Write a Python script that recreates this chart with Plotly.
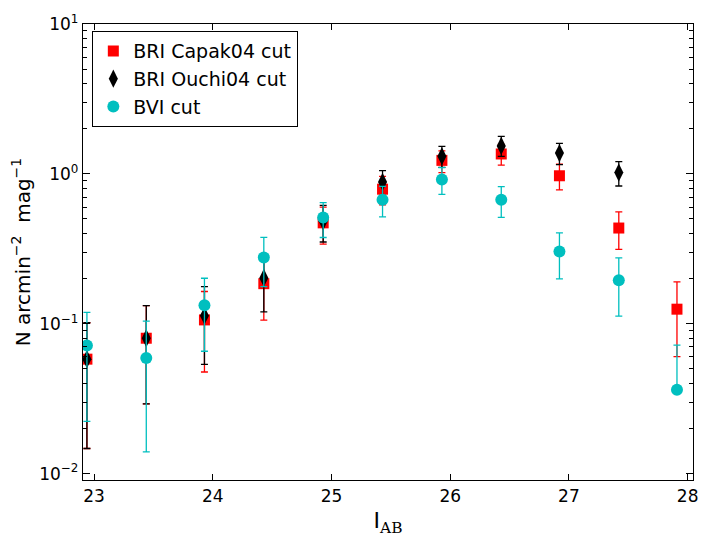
import plotly.graph_objects as go

# ---- data ----
mag = [22.94, 23.44, 23.93, 24.43, 24.93, 25.43, 25.93, 26.43, 26.92, 27.42, 27.91]

capak_y = [0.058, 0.080, 0.106, 0.185, 0.471, 0.790, 1.23, 1.357, 0.971, 0.435, 0.125]
capak_hi = [0.1015, 0.132, 0.164, 0.264, 0.600, 0.961, 1.425, 1.57, 1.16, 0.557, 0.190]
capak_lo = [0.0147, 0.0292, 0.0476, 0.1056, 0.340, 0.62, 1.02, 1.143, 0.782, 0.313, 0.0603]

ouchi_x = mag[:10]
ouchi_y = [0.058, 0.080, 0.113, 0.202, 0.483, 0.884, 1.311, 1.535, 1.377, 1.02]
ouchi_hi = [0.1015, 0.132, 0.177, 0.284, 0.617, 1.05, 1.527, 1.778, 1.597, 1.205]
ouchi_lo = [0.0147, 0.0292, 0.0535, 0.120, 0.351, 0.718, 1.104, 1.31, 1.154, 0.830]

bvi_y = [0.0715, 0.059, 0.133, 0.277, 0.512, 0.671, 0.916, 0.671, 0.303, 0.195, 0.0363]
bvi_hi = [0.119, 0.104, 0.201, 0.377, 0.642, 0.825, 1.10, 0.821, 0.404, 0.275, 0.072]
bvi_lo = [0.0223, 0.01397, 0.0655, 0.177, 0.376, 0.517, 0.730, 0.512, 0.199, 0.1125, 0.0363]

x_ticks = [23, 24, 25, 26, 27, 28]
y_ticks = [0.01, 0.1, 1, 10]
y_ticktext = ["10<sup>−2</sup>", "10<sup>−1</sup>", "10<sup>0</sup>", "10<sup>1</sup>"]

FONT = "DejaVu Sans"
RED = "rgb(255,0,0)"
BLACK = "rgb(0,0,0)"
CYAN = "rgb(0,191,191)"


def errs(y, hi, lo):
    return [h - v for v, h in zip(y, hi)], [v - l for v, l in zip(y, lo)]


fig = go.Figure()

series = [
    ("BRI Capak04 cut", mag, capak_y, capak_hi, capak_lo, RED, "square", 11),
    ("BRI Ouchi04 cut", ouchi_x, ouchi_y, ouchi_hi, ouchi_lo, BLACK, "diamond-tall", 13),
    ("BVI cut", mag, bvi_y, bvi_hi, bvi_lo, CYAN, "circle", 12),
]
for name, xs, ys, hi, lo, col, sym, sz in series:
    plus, minus = errs(ys, hi, lo)
    fig.add_trace(go.Scatter(
        x=xs, y=ys, mode="markers", name=name,
        marker=dict(symbol=sym, size=sz, color=col, line=dict(width=0)),
        error_y=dict(type="data", symmetric=False, array=plus, arrayminus=minus,
                     color=col, thickness=1.3, width=3.5),
    ))

minor_vals = [m * 10 ** k for k in range(-3, 1) for m in range(2, 10)]

fig.update_layout(
    width=718, height=541,
    margin=dict(l=83, r=25, t=18, b=48),
    paper_bgcolor="white", plot_bgcolor="white",
    font=dict(family=FONT, color="black", size=17),
    showlegend=True,
    legend=dict(x=0.0148, y=0.985, xanchor="left", yanchor="top",
                bordercolor="black", borderwidth=1.3, bgcolor="white",
                font=dict(family=FONT, size=19), tracegroupgap=0),
    xaxis=dict(
        range=[22.907, 28.045], tickvals=x_ticks, ticktext=[str(t) for t in x_ticks],
        ticks="inside", ticklen=6, tickcolor="black", mirror="ticks",
        showline=True, linecolor="black", linewidth=1.3, showgrid=False, zeroline=False,
        tickfont=dict(size=17),
        title=dict(text="I<sub><span style=\"font-family:'DejaVu Serif'\">AB</span></sub>",
                   font=dict(size=22), standoff=8),
    ),
    yaxis=dict(
        type="log", range=[-2.043, 1.0], tickvals=y_ticks, ticktext=y_ticktext,
        ticks="inside", ticklen=7, tickcolor="black", mirror="ticks",
        showline=True, linecolor="black", linewidth=1.3, showgrid=False, zeroline=False,
        tickfont=dict(size=17),
        minor=dict(tickvals=minor_vals, ticks="inside", ticklen=3.5, tickcolor="black",
                   showgrid=False),
        title=dict(text="N arcmin<sup>−2</sup>  mag<sup>−1</sup>",
                   font=dict(size=20), standoff=3),
    ),
)

fig.write_html("out.html")
